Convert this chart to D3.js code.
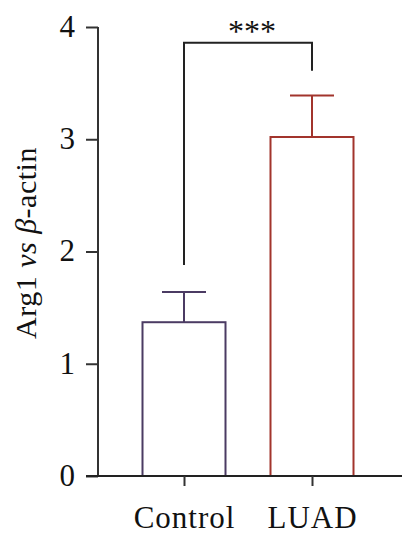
<!DOCTYPE html>
<html>
<head>
<meta charset="utf-8">
<script src="https://cdn.jsdelivr.net/npm/d3@7"></script>
<style>
  body { margin: 0; background: #fff; }
  svg { display: block; }
  text { font-family: "Liberation Serif", "DejaVu Serif", serif; fill: #111; }
</style>
</head>
<body>
<svg id="fig" width="402" height="541"></svg>
<script>
// data
const groups = ["Control", "LUAD"];
const means = [1.37, 3.02];
const errs = [0.27, 0.37];
const colors = ["#4b3b63", "#a2342c"];
const yTicks = [0, 1, 2, 3, 4];
const sigLabel = "***";
const bracketLevel = 3.86;
const bracketEnds = [1.88, 3.61];

const svg = d3.select("#fig");
const barW = 83;

let yScale = d3.scaleLinear().domain([0, 4]).range([476, 27]);
let xScale = d3.scalePoint().domain(groups).range([184, 312]);

const g = svg.append("g");

// bars
g.selectAll("rect.bar").data(groups).join("rect")
  .attr("class", "bar")
  .attr("x", d => xScale(d) - barW / 2)
  .attr("y", (d, i) => yScale(means[i]))
  .attr("width", barW)
  .attr("height", (d, i) => yScale(0) - yScale(means[i]))
  .attr("fill", "none")
  .attr("stroke", (d, i) => colors[i])
  .attr("stroke-width", 2);

// error bars
groups.forEach((d, i) => {
  const cx = xScale(d);
  g.append("line")
    .attr("x1", cx).attr("x2", cx)
    .attr("y1", yScale(means[i])).attr("y2", yScale(means[i] + errs[i]))
    .attr("stroke", colors[i]).attr("stroke-width", 2);
  g.append("line")
    .attr("x1", cx - 22).attr("x2", cx + 22)
    .attr("y1", yScale(means[i] + errs[i])).attr("y2", yScale(means[i] + errs[i]))
    .attr("stroke", colors[i]).attr("stroke-width", 2);
});

// axes
const yAxis = d3.axisLeft(yScale).tickValues(yTicks).tickSize(12).tickPadding(11).tickFormat(d3.format("d"));
const yg = svg.append("g").attr("transform", "translate(98,0)").call(yAxis);
yg.select(".domain").attr("d", `M0,${yScale(4)}V${yScale(0)}`).attr("stroke", "#333").attr("stroke-width", 2);
yg.selectAll(".tick line").attr("stroke", "#333").attr("stroke-width", 2);
yg.selectAll(".tick text").attr("font-size", 31).attr("font-family", "Liberation Serif, serif").attr("fill", "#111").attr("dy", "0.3em");

svg.append("line").attr("x1", 86).attr("x2", 402).attr("y1", yScale(0)).attr("y2", yScale(0))
  .attr("stroke", "#222").attr("stroke-width", 2);

const xAxis = d3.axisBottom(xScale).tickSize(10);
const xg = svg.append("g").attr("transform", `translate(0,${yScale(0)})`).call(xAxis);
xg.select(".domain").remove();
xg.selectAll(".tick line").attr("stroke", "#333").attr("stroke-width", 2);
xg.selectAll(".tick text").attr("y", 52).attr("dy", 0)
  .attr("font-size", 31).attr("letter-spacing", 1)
  .attr("font-family", "Liberation Serif, serif").attr("fill", "#111");

// y title
const yt = svg.append("text")
  .attr("transform", "translate(36,243) rotate(-90)")
  .attr("text-anchor", "middle")
  .attr("font-size", 30)
  .attr("letter-spacing", 0.5);
yt.append("tspan").text("Arg1 ");
yt.append("tspan").attr("font-style", "italic").text("vs β");
yt.append("tspan").text("-actin");

// significance bracket
const x0 = xScale(groups[0]);
const x1 = xScale(groups[1]);
g.append("path")
  .attr("d", `M${x0},${yScale(bracketLevel)}V${yScale(bracketEnds[0])}`)
  .attr("fill", "none").attr("stroke", "#222").attr("stroke-width", 2);
g.append("path")
  .attr("d", `M${x0},${yScale(bracketEnds[0])}V${yScale(bracketLevel)}H${x1}V${yScale(bracketEnds[1])}`)
  .attr("fill", "none").attr("stroke", "#222").attr("stroke-width", 2);
g.append("text")
  .attr("x", (x0 + x1) / 2 + 4).attr("y", yScale(bracketLevel) - 1)
  .attr("text-anchor", "middle").attr("font-size", 32).attr("letter-spacing", 0)
  .text(sigLabel);
</script>
</body>
</html>
